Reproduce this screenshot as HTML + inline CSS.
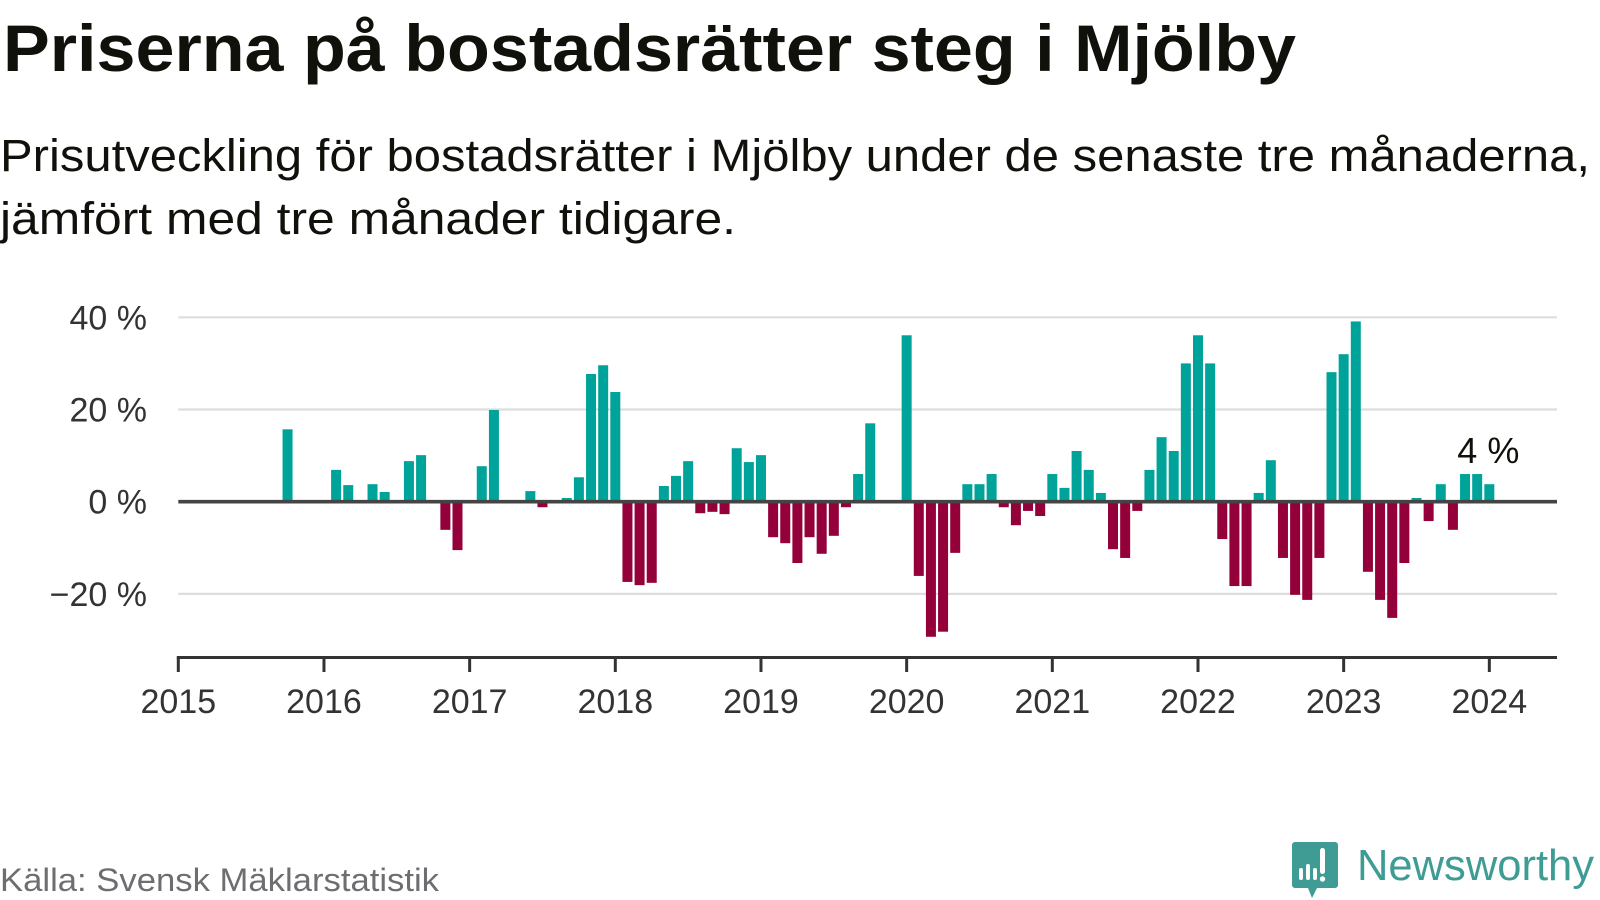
<!DOCTYPE html>
<html><head><meta charset="utf-8">
<style>
html,body{margin:0;padding:0;background:#fff;}
svg{display:block;font-family:"Liberation Sans",sans-serif;}
</style></head>
<body>
<svg id="chart" width="1600" height="900" viewBox="0 0 1600 900">
<text x="3" y="71" font-size="66" font-weight="bold" fill="#11110c" textLength="1293" lengthAdjust="spacingAndGlyphs">Priserna på bostadsrätter steg i Mjölby</text>
<text x="0" y="171" font-size="45" fill="#11110c" textLength="1590" lengthAdjust="spacingAndGlyphs">Prisutveckling för bostadsrätter i Mjölby under de senaste tre månaderna,</text>
<text x="0" y="234" font-size="45" fill="#11110c" textLength="736" lengthAdjust="spacingAndGlyphs">jämfört med tre månader tidigare.</text>
<g id="grid"></g>
<g id="bars"></g>
<g id="axes"></g>
<text x="0" y="891" font-size="32" fill="#6d6e71" textLength="439" lengthAdjust="spacingAndGlyphs">Källa: Svensk Mäklarstatistik</text>
<g>
<path d="M1295 842 h40 a3 3 0 0 1 3 3 v40 a3 3 0 0 1 -3 3 h-18 l-5 10 l-4 -10 h-13 a3 3 0 0 1 -3 -3 v-40 a3 3 0 0 1 3 -3z" fill="#3f9c94"/>
<rect x="1299" y="868" width="4" height="12" rx="2" fill="#fff"/>
<rect x="1306" y="864" width="4" height="16" rx="2" fill="#fff"/>
<rect x="1313" y="868" width="4" height="12" rx="2" fill="#fff"/>
<rect x="1320" y="848" width="5" height="26" rx="2.5" fill="#fff"/>
<circle cx="1322.5" cy="879" r="2.7" fill="#fff"/>
<text x="1357" y="880" font-size="44" fill="#3f9c94" textLength="237" lengthAdjust="spacingAndGlyphs">Newsworthy</text>
</g>
</svg>
<script>
const startYear = 2015;
const yTicks = [40, 20, 0, -20];
const yTickLabels = ["40 %", "20 %", "0 %", "\u221220 %"];
const xTickLabels = ["2015","2016","2017","2018","2019","2020","2021","2022","2023","2024"];
// monthly values from Jan 2015 (index 0) to Jan 2024 (index 108); null = no data
const values = [
null,null,null,null,null,null,null,null,null,15.7,null,null,
null,6.9,3.6,null,3.8,2.1,null,8.8,10.1,null,-6.1,-10.5,
null,7.7,19.9,null,null,2.3,-1.2,null,0.8,5.3,27.7,29.6,
23.8,-17.4,-18.1,-17.6,3.4,5.6,8.8,-2.5,-2.2,-2.7,11.6,8.6,
10.1,-7.7,-9.0,-13.3,-7.7,-11.3,-7.4,-1.2,6.0,17.0,null,null,
36.1,-16.1,-29.3,-28.2,-11.1,3.8,3.8,6.0,-1.2,-5.1,-2.0,-3.1,
6.0,3.0,11.0,6.9,1.9,-10.3,-12.2,-2.0,6.9,14.0,11.0,30.0,
36.1,30.0,-8.1,-18.3,-18.3,1.9,9.0,-12.2,-20.2,-21.3,-12.2,28.1,
32.0,39.1,-15.2,-21.3,-25.2,-13.3,0.8,-4.2,3.8,-6.1,6.0,6.0,
3.8
];
const latestLabel = "4 %";

const NS = "http://www.w3.org/2000/svg";
const x0 = 178.3, monthW = 145.67/12, xEnd = 1557;
const yZero = 501.7, pxPerPct = 4.61;
function xScale(m){ return x0 + m*monthW; }
function yScale(v){ return yZero - v*pxPerPct; }
function mk(tag, attrs, parent){ const e=document.createElementNS(NS,tag); for(const k in attrs) e.setAttribute(k, attrs[k]); parent.appendChild(e); return e; }

const grid = document.getElementById('grid');
const bars = document.getElementById('bars');
const axes = document.getElementById('axes');

yTicks.forEach((t,i)=>{
  if(t!==0){
    const l = mk('line',{x1:x0,x2:xEnd,y1:yScale(t),y2:yScale(t),stroke:'#dddddd','stroke-width':2.2},grid);
    
    
  }
  const tx = mk('text',{x:147,y:yScale(t)+12,'font-size':34,fill:'#333','text-anchor':'end'},axes);
  tx.textContent = yTickLabels[i];
  
  
});

values.forEach((v,m)=>{
  if(v===null) return;
  const cx = xScale(m);
  const top = Math.min(yScale(v), yZero), h = Math.abs(yScale(v)-yZero);
  const r = mk('rect',{x:cx-5,y:top,width:10,height:h,fill:v>=0?'#00a39a':'#93003a'},bars);
  
  
});

const zl = mk('line',{x1:x0,x2:xEnd,y1:yZero,y2:yZero,stroke:'#444','stroke-width':3.6},axes);


const xa = mk('line',{x1:x0-1.5,x2:xEnd,y1:657.5,y2:657.5,stroke:'#333','stroke-width':3},axes);


xTickLabels.forEach((lab,i)=>{
  const x = xScale(i*12);
  const tk = mk('line',{x1:x,x2:x,y1:657,y2:672,stroke:'#333','stroke-width':3},axes);
  
  
  const tx = mk('text',{x:x,y:713,'font-size':34,fill:'#333','text-anchor':'middle'},axes);
  tx.textContent = lab;
  
  
});
const lastIdx = values.length-1;
const ll = mk('text',{x:xScale(lastIdx)-1,y:463,'font-size':36,fill:'#11110c','text-anchor':'middle'},axes);
ll.textContent = latestLabel;


</script>
</body></html>
